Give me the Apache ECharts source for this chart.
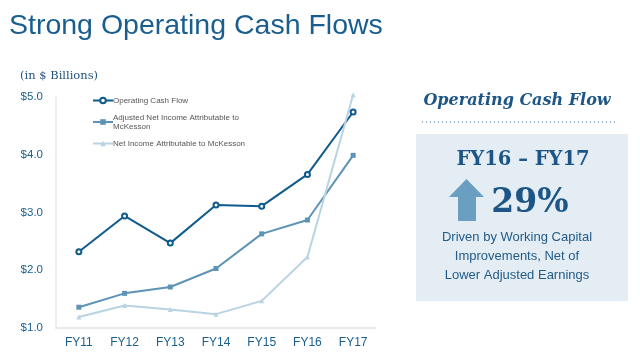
<!DOCTYPE html>
<html><head><meta charset="utf-8">
<script src="https://cdn.jsdelivr.net/npm/echarts@6/dist/echarts.min.js"></script>
<style>html,body{margin:0;padding:0;background:#fff}#c{width:640px;height:361px}</style>
</head><body><div id="c"></div>
<script>
const categories = ['FY11','FY12','FY13','FY14','FY15','FY16','FY17'];
const operatingCashFlow = [2.32, 2.94, 2.47, 3.13, 3.11, 3.66, 4.74];
const adjustedNetIncome = [1.36, 1.60, 1.71, 2.03, 2.63, 2.87, 3.99];
const netIncome = [1.19, 1.39, 1.32, 1.24, 1.47, 2.23, 5.04];
const yTicks = [1, 2, 3, 4, 5];
const seriesNames = ['Operating Cash Flow', 'Adjusted Net Income Attributable to\nMcKesson', 'Net Income Attributable to McKesson'];

const chart = echarts.init(document.getElementById('c'), null, {renderer: 'canvas'});
const blue = '#1b5e8e';
const sans = 'Arial, "Liberation Sans", sans-serif';
const serif = '"DejaVu Serif", Georgia, serif';
chart.setOption({
  animation: false,
  backgroundColor: '#fff',
  title: [{
    text: 'Strong Operating Cash Flows', left: 4, top: 7,
    textStyle: {fontFamily: sans, fontSize: 28.5, fontWeight: 'normal', color: '#1a5e8f'}
  }, {
    text: '(in $ Billions)', left: 15, top: 65,
    textStyle: {fontFamily: serif, fontSize: 11.5, fontWeight: 'normal', color: '#24527d'}
  }],
  grid: {left: 56, right: 264, top: 97, bottom: 33},
  legend: {
    orient: 'vertical', left: 87, top: 91, itemGap: 8,
    itemWidth: 20, itemHeight: 7,
    textStyle: {fontFamily: sans, fontSize: 8, color: '#555', lineHeight: 9, padding: [0,0,0,-5]},
    data: seriesNames
  },
  xAxis: {
    type: 'category', data: categories, boundaryGap: true,
    axisLine: {lineStyle: {color: '#e4e4e4', width: 1.5}},
    axisTick: {show: false},
    axisLabel: {fontFamily: sans, fontSize: 12, color: blue, margin: 9}
  },
  yAxis: {
    type: 'value', min: 1, max: 5, interval: 1,
    axisLine: {show: true, lineStyle: {color: '#e8e8e8', width: 1.5}},
    axisTick: {show: false},
    splitLine: {show: false},
    axisLabel: {fontFamily: sans, fontSize: 11.5, color: blue, margin: 13,
      formatter: v => '$' + v.toFixed(1)}
  },
  series: [{
    name: seriesNames[0], type: 'line', data: operatingCashFlow,
    symbol: 'emptyCircle', symbolSize: 5, clip: false,
    lineStyle: {color: '#0f5a8d', width: 2},
    itemStyle: {color: '#0f5a8d', borderWidth: 1}
  }, {
    name: seriesNames[1], type: 'line', data: adjustedNetIncome,
    symbol: 'rect', symbolSize: 5, clip: false,
    lineStyle: {color: '#5d93b5', width: 2},
    itemStyle: {color: '#5d93b5'}
  }, {
    name: seriesNames[2], type: 'line', data: netIncome,
    symbol: 'triangle', symbolSize: 5, clip: false,
    lineStyle: {color: '#b9d3e3', width: 2},
    itemStyle: {color: '#b9d3e3'}
  }],
  graphic: [
    {type: 'text', x: 517, y: 101, style: {text: 'Operating Cash Flow', align: 'center', verticalAlign: 'middle',
      font: 'italic bold 16px ' + serif, fill: '#1c5586'}},
    {type: 'line', shape: {x1: 422, y1: 122, x2: 618, y2: 122},
      style: {stroke: '#3f74a0', lineWidth: 1.2, lineDash: [1, 3]}},
    {type: 'rect', shape: {x: 416, y: 134, width: 212, height: 167}, style: {fill: '#e4edf3'}},
    {type: 'text', x: 523, y: 160, style: {text: 'FY16 – FY17', align: 'center', verticalAlign: 'middle',
      font: 'bold 19.5px ' + serif, fill: '#1c5586'}},
    {type: 'polygon', shape: {points: [[449,197],[466.5,179],[484,197],[476,197],[476,221],[458,221],[458,197]]},
      style: {fill: '#6a9fc1'}},
    {type: 'text', x: 530, y: 203, style: {text: '29%', align: 'center', verticalAlign: 'middle',
      font: 'bold 33px ' + serif, fill: '#1c5586'}},
    {type: 'text', x: 517, y: 237, style: {text: 'Driven by Working Capital', align: 'center', verticalAlign: 'middle',
      font: '13px ' + sans, fill: '#225b88'}},
    {type: 'text', x: 517, y: 256, style: {text: 'Improvements, Net of', align: 'center', verticalAlign: 'middle',
      font: '13px ' + sans, fill: '#225b88'}},
    {type: 'text', x: 517, y: 275, style: {text: 'Lower Adjusted Earnings', align: 'center', verticalAlign: 'middle',
      font: '13px ' + sans, fill: '#225b88'}}
  ]
});
</script></body></html>
